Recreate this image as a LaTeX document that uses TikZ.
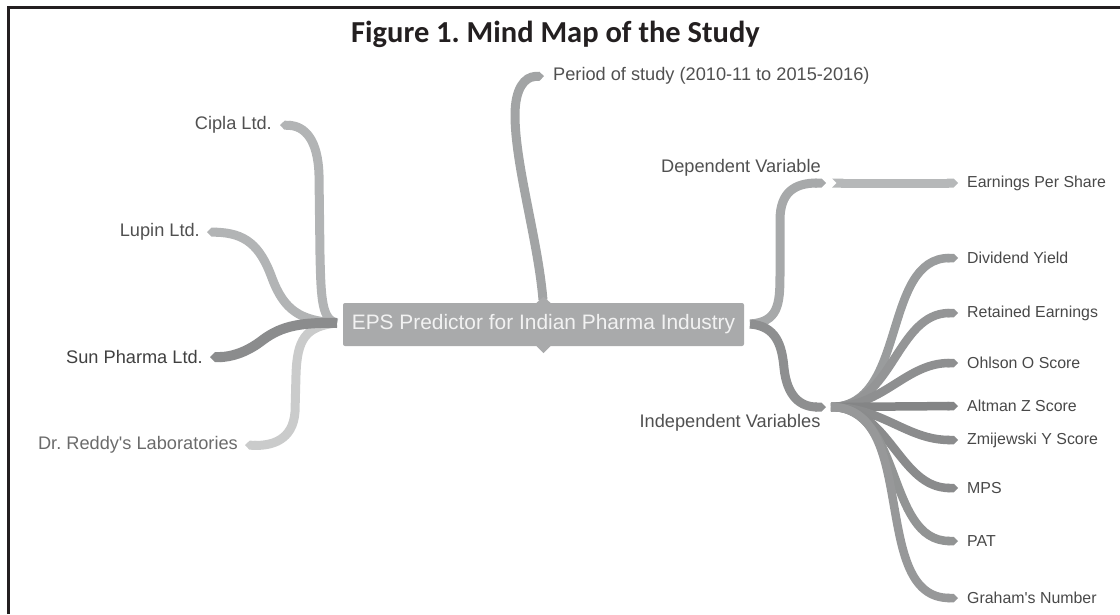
\documentclass[tikz,border=0pt]{standalone}
\usepackage{fontspec}
\setmainfont{Liberation Sans}[Ligatures=TeXOff]
\newfontfamily\titlefont{Carlito}
\usetikzlibrary{arrows.meta}
\frenchspacing

\definecolor{framecol}{HTML}{231F20}
\definecolor{labelcol}{HTML}{505050}
\definecolor{nodefill}{HTML}{A9AAAB}
\definecolor{rLight}{HTML}{B2B4B5}
\definecolor{rPale}{HTML}{CACBCB}
\definecolor{rDark}{HTML}{8B8C8D}
\definecolor{rMid}{HTML}{A2A4A5}
\definecolor{rDep}{HTML}{A7A9AA}
\definecolor{rEps}{HTML}{B6B8B9}
\definecolor{rInd}{HTML}{8E8F90}

\begin{document}
\begin{tikzpicture}[x=1pt,y=-1pt,
  lbl/.style={inner sep=0pt, text=labelcol, font=\fontsize{18.2}{21}\selectfont},
  leaf/.style={inner sep=0pt, anchor=west, text=labelcol!90!black, font=\fontsize{15.9}{18}\selectfont},
  ribbon/.style={line width=9pt, draw=#1, -{Triangle Cap[]}},
  notched/.style={{Triangle Cap[reversed]}-{Triangle Cap[]}},
  branch/.style={line width=8.5pt, draw=#1, -{Triangle Cap[]}},
]
\useasboundingbox (0,0) rectangle (1120,614);

% frame (top and left edges)
\draw[framecol, line width=3pt] (8.5,614) -- (8.5,7.5) -- (1120,7.5);

% title
\node[inner sep=0pt, text=framecol, font=\titlefont\bfseries\fontsize{30.5}{33}\selectfont] (title) at (555.5,34) {Figure 1. Mind Map of the Study};

% labels
\node[lbl, anchor=east] (cipla) at (272,125) {Cipla Ltd.};
\node[lbl, anchor=east] (lupin) at (200,232) {Lupin Ltd.};
\node[lbl, anchor=east, text=black!75] (sun) at (203,357) {Sun Pharma Ltd.};
\node[lbl, anchor=east, text=black!58] (reddy) at (238,445) {Dr. Reddy's Laboratories};
\node[lbl, anchor=west] (period) at (553,76) {Period of study (2010-11 to 2015-2016)};
\node[lbl] (depl) at (741,168) {Dependent Variable};
\node[lbl] (indl) at (730,423) {Independent Variables};

\coordinate (lroot) at (337,323);
\coordinate (rroot) at (750,324);
\coordinate (dephub) at (826,183);
\coordinate (indhub) at (826,407);
\coordinate (indsrc) at (831,407);

% leaves
\node[leaf] (eps1) at (967,183) {Earnings Per Share};
\node[leaf] (div) at (967,258) {Dividend Yield};
\node[leaf] (ret) at (967,313) {Retained Earnings};
\node[leaf] (ohl) at (967,363) {Ohlson O Score};
\node[leaf] (alt) at (967,406) {Altman Z Score};
\node[leaf] (zmi) at (967,440) {Zmijewski Y Score};
\node[leaf] (mps) at (967,488) {MPS};
\node[leaf] (pat) at (967,541) {PAT};
\node[leaf] (gra) at (967,598) {Graham's Number};

% left branches
\draw[ribbon=rLight] (lroot) .. controls (322,320) and (321,300) .. (320,255)
  -- (319,175) .. controls (318,140) and (305,126) .. ([xshift=8pt]cipla.east);
\draw[ribbon=rLight] (lroot) .. controls (300,321) and (284,310) .. (272,278)
  .. controls (260,245) and (245,233) .. ([xshift=7pt]lupin.east);
\draw[ribbon=rPale] (lroot) .. controls (305,326) and (297,340) .. (296,375)
  -- (295,412) .. controls (293,440) and (272,446) .. ([xshift=7pt]reddy.east);
\draw[ribbon=rDark, line width=10pt] (lroot) .. controls (295,322) and (278,328) .. (260,342)
  .. controls (245,353) and (230,357) .. ([xshift=7pt]sun.east);

% top branch
\draw[ribbon=rMid] (543,300) .. controls (538,240) and (515,165) .. (515,115)
  .. controls (515,88) and (525,77) .. ([xshift=-9pt]period.west);

% right branches
\draw[ribbon=rDep] (rroot) .. controls (778,322) and (780,305) .. (780,275)
  -- (780,220) .. controls (780,192) and (795,183) .. (dephub);
\draw[ribbon=rEps, notched] ([xshift=6pt]dephub) -- ([xshift=-9pt]eps1.west);
\draw[ribbon=rInd] (rroot) .. controls (776,326) and (782,345) .. (784,368)
  .. controls (787,396) and (800,407) .. (indhub);

\draw[branch={rMid!95!black}] (indsrc) to[out=0,in=180] ([xshift=-9pt]div.west);
\draw[branch={rInd!95!white}] (indsrc) to[out=0,in=180] ([xshift=-9pt]ret.west);
\draw[branch=rInd] (indsrc) to[out=0,in=180] ([xshift=-9pt]ohl.west);
\draw[branch={rDark!95!black}] (indsrc) -- ([xshift=-9pt]alt.west);
\draw[branch=rDark] (indsrc) to[out=0,in=180] ([xshift=-9pt]zmi.west);
\draw[branch={rMid!85!black}] (indsrc) to[out=0,in=180] ([xshift=-9pt]mps.west);
\draw[branch={rMid!90!black}] (indsrc) to[out=0,in=180] ([xshift=-9pt]pat.west);
\draw[branch={rInd!92!white}] (indsrc) to[out=0,in=180] ([xshift=-9pt]gra.west);

% central node
\node[fill=nodefill, rounded corners=2pt, minimum width=401pt, minimum height=43pt,
  inner sep=0pt, text=white!95!black, font=\fontsize{20.9}{24}\selectfont] (eps) at (543.5,324.5)
  {EPS Predictor for Indian Pharma Industry};
\fill[nodefill] ([xshift=-7pt]eps.north) -- ([yshift=6pt]eps.north) -- ([xshift=7pt]eps.north) -- cycle;
\fill[nodefill] ([xshift=-7pt]eps.south) -- ([yshift=-7pt]eps.south) -- ([xshift=7pt]eps.south) -- cycle;
\end{tikzpicture}
\end{document}
